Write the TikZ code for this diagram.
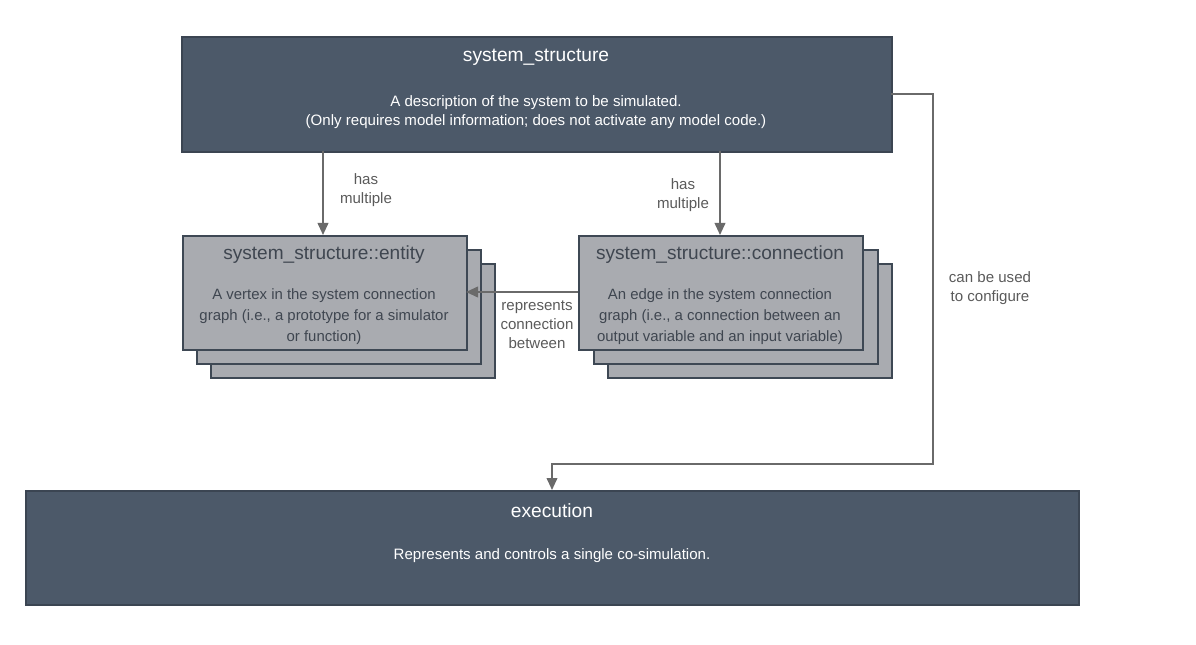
\documentclass[tikz,border=0pt]{standalone}
\usepackage{fontspec}
\setmainfont{Liberation Sans}
\usetikzlibrary{arrows.meta}
\definecolor{darkfill}{HTML}{4C5969}
\definecolor{darkedge}{HTML}{3B4552}
\definecolor{grayfill}{HTML}{A9ABB0}
\definecolor{grayedge}{HTML}{3E4854}
\definecolor{graytext}{HTML}{3F4650}
\definecolor{arrowcol}{HTML}{6A6A6A}
\definecolor{labelcol}{HTML}{5A5A5A}
\tikzset{
  darkbox/.style={draw=darkedge, line width=1.5pt, fill=darkfill},
  graybox/.style={draw=grayedge, line width=1.6pt, fill=grayfill},
  conn/.style={draw=arrowcol, line width=1.3pt, -{Triangle[length=9pt,width=8pt]}},
  lbl/.style={text=labelcol, font=\fontsize{11.3}{14.3}\selectfont, align=center, inner sep=0pt},
  wtitle/.style={text=white, font=\fontsize{14.4}{16}\selectfont, inner sep=0pt},
  wtext/.style={text=white, font=\fontsize{11.3}{14.3}\selectfont, align=center, inner sep=0pt},
  gtitle/.style={text=graytext, font=\fontsize{14.3}{16}\selectfont, inner sep=0pt},
  gtext/.style={text=graytext, font=\fontsize{11.2}{15.8}\selectfont, align=center, inner sep=0pt},
}
\begin{document}
\begin{tikzpicture}[x=0.75pt,y=-0.75pt]
\useasboundingbox (0,0) rectangle (1196,645);
% top box
\node[darkbox, minimum width=710*0.75pt, minimum height=115*0.75pt, anchor=north west] (ss) at (181,36) {};
\node[wtitle] (sst) at (536,57) {system\_structure};
\node[wtext] (ssd) at (536,112) {A description of the system to be simulated.\\(Only requires model information; does not activate any model code.)};
% entity stack
\node[graybox, minimum width=284*0.75pt, minimum height=114*0.75pt, anchor=north west] (e3) at (210,263) {};
\node[graybox, minimum width=284*0.75pt, minimum height=114*0.75pt, anchor=north west] (e2) at (196,249) {};
\node[graybox, minimum width=284*0.75pt, minimum height=114*0.75pt, anchor=north west] (e1) at (182,235) {};
\node[gtitle] (e1t) at (324,255) {system\_structure::entity};
\node[gtext] (e1d) at (324,317) {A vertex in the system connection\\graph (i.e., a prototype for a simulator\\or function)};
% connection stack
\node[graybox, minimum width=284*0.75pt, minimum height=114*0.75pt, anchor=north west] (c3) at (607,263) {};
\node[graybox, minimum width=284*0.75pt, minimum height=114*0.75pt, anchor=north west] (c2) at (593,249) {};
\node[graybox, minimum width=284*0.75pt, minimum height=114*0.75pt, anchor=north west] (c1) at (578,235) {};
\node[gtitle] (c1t) at (720,255) {system\_structure::connection};
\node[gtext] (c1d) at (720,317) {An edge in the system connection\\graph (i.e., a connection between an\\output variable and an input variable)};
% execution box
\node[darkbox, minimum width=1053*0.75pt, minimum height=114*0.75pt, anchor=north west] (ex) at (25,490) {};
\node[wtitle] (ext) at (552,511) {execution};
\node[wtext] (exd) at (552,556) {Represents and controls a single co-simulation.};
% connectors
\coordinate (a1s) at (323,151);
\coordinate (a1e) at (323,235);
\draw[conn] (a1s) -- (a1e);
\node[lbl] (l1) at (366,190) {has\\multiple};
\coordinate (a2s) at (720,151);
\coordinate (a2e) at (720,235);
\draw[conn] (a2s) -- (a2e);
\node[lbl] (l2) at (683,195) {has\\multiple};
\coordinate (a3s) at (578,292);
\coordinate (a3e) at (466,292);
\draw[conn] (a3s) -- (a3e);
\node[lbl] (l3) at (537,325) {represents\\connection\\between};
\coordinate (a4s) at (891,94);
\coordinate (a4e) at (552,490);
\draw[conn] (a4s) -- (933,94) -- (933,464) -- (552,464) -- (a4e);
\node[lbl] (l4) at (990,288) {can be used\\to configure};
\end{tikzpicture}
\end{document}
